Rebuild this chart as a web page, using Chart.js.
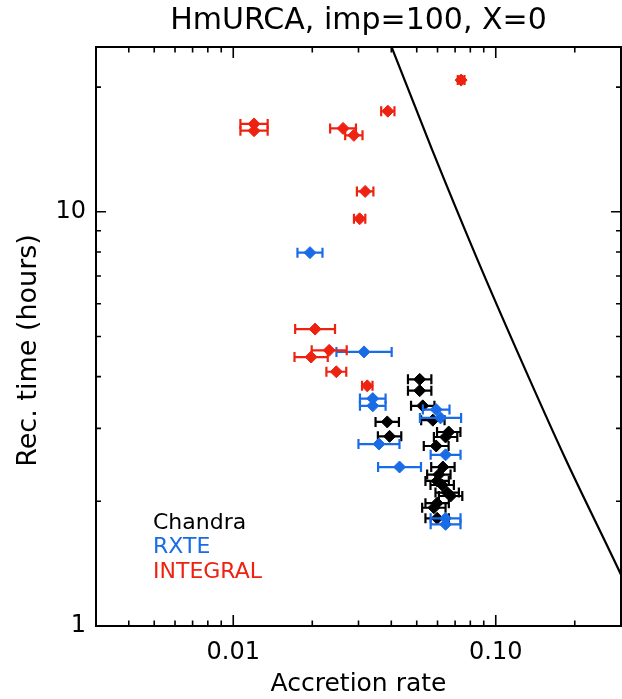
<!DOCTYPE html>
<html><head><meta charset="utf-8">
<script src="https://cdn.jsdelivr.net/npm/chart.js@4"></script>
<style>html,body{margin:0;padding:0;background:#fff;overflow:hidden;}canvas{display:block;}</style>
</head><body>
<canvas id="c" width="622" height="699"></canvas>
<script>
// ---- data ----
const titleText = "HmURCA, imp=100, X=0";
const xTitle = "Accretion rate";
const yTitle = "Rec. time (hours)";

const seriesNames = ["Chandra", "RXTE", "INTEGRAL"];
const seriesColors = ["#000000", "#1a6be6", "#ee2211"];

const chandraX = [0.0513, 0.0513, 0.0527, 0.0576, 0.0386, 0.0662, 0.0644, 0.0394, 0.0593, 0.0629, 0.0607, 0.0598, 0.0625, 0.0653, 0.0673, 0.0598, 0.0581, 0.0598];
const chandraY = [3.94, 3.70, 3.40, 3.14, 3.11, 2.94, 2.86, 2.87, 2.72, 2.42, 2.32, 2.24, 2.19, 2.10, 2.06, 1.98, 1.93, 1.82];
const chandraErr = [1.108, 1.108, 1.108, 1.108, 1.108, 1.108, 1.108, 1.108, 1.115, 1.108, 1.108, 1.108, 1.108, 1.108, 1.108, 1.108, 1.108, 1.108];

const rxteX = [0.0196, 0.0315, 0.0340, 0.0340, 0.0593, 0.0616, 0.0359, 0.0644, 0.0430, 0.0644, 0.0644];
const rxteY = [7.97, 4.59, 3.54, 3.40, 3.33, 3.18, 2.75, 2.59, 2.42, 1.82, 1.76];
const rxteErr = [1.116, 1.274, 1.119, 1.119, 1.124, 1.198, 1.197, 1.14, 1.207, 1.14, 1.14];

const integralX = [0.0738, 0.0388, 0.0120, 0.0120, 0.0262, 0.0288, 0.0318, 0.0303, 0.0205, 0.0232, 0.0198, 0.0247, 0.0324];
const integralY = [20.8, 17.5, 16.3, 15.7, 15.9, 15.3, 11.2, 9.62, 5.21, 4.63, 4.46, 4.11, 3.80];
const integralErr = [1.03, 1.06, 1.127, 1.127, 1.12, 1.079, 1.075, 1.051, 1.191, 1.166, 1.157, 1.091, 1.047];

const curveX = [0.0359, 0.0399, 0.0570, 0.0850, 0.1244, 0.1850, 0.300, 0.332];
const curveY = [30.0, 25.2, 14.21, 7.69, 4.41, 2.52, 1.33, 1.156];

const xTickValues = [0.003, 0.004, 0.005, 0.006, 0.007, 0.008, 0.009, 0.01, 0.02, 0.03, 0.04, 0.05, 0.06, 0.07, 0.08, 0.09, 0.1, 0.2, 0.3];
const xMajorValues = [0.01, 0.1];
const xMajorLabels = ["0.01", "0.10"];
const yTickValues = [1, 2, 3, 4, 5, 6, 7, 8, 9, 10, 20];
const yMajorValues = [1, 10];
const yMajorLabels = ["1", "10"];

// ---- build datasets ----
function pts(xs, ys) { return xs.map((x, i) => ({ x: x, y: ys[i] })); }
function labelFor(v, majors, labels) {
  for (let i = 0; i < majors.length; i++) if (Math.abs(v / majors[i] - 1) < 1e-6) return labels[i];
  return "";
}
function isMajor(v, majors) { return majors.some(m => Math.abs(v / m - 1) < 1e-6); }

const markerDs = (name, xs, ys, err, color) => ({
  label: name, data: pts(xs, ys), errFactor: err,
  pointStyle: 'rectRot', pointRadius: 6, pointBorderWidth: 1,
  backgroundColor: color, borderColor: color, showLine: false
});

const FONT = "'DejaVu Sans', sans-serif";

const errorBarPlugin = {
  id: 'errbars',
  beforeDatasetDraw(chart, args) {
    const ds = chart.data.datasets[args.index];
    if (!ds.errFactor) return;
    const xs = chart.scales.x, ys = chart.scales.y, ctx = chart.ctx;
    const a = chart.chartArea;
    ctx.save();
    ctx.beginPath(); ctx.rect(a.left, a.top, a.right - a.left, a.bottom - a.top); ctx.clip();
    ctx.strokeStyle = ds.borderColor; ctx.lineWidth = 2.2;
    ds.data.forEach((p, i) => {
      const f = ds.errFactor[i];
      const x0 = xs.getPixelForValue(p.x / f), x1 = xs.getPixelForValue(p.x * f);
      const y = ys.getPixelForValue(p.y);
      ctx.beginPath();
      ctx.moveTo(x0, y); ctx.lineTo(x1, y);
      ctx.moveTo(x0, y - 5); ctx.lineTo(x0, y + 5);
      ctx.moveTo(x1, y - 5); ctx.lineTo(x1, y + 5);
      ctx.stroke();
    });
    ctx.restore();
  }
};

const framePlugin = {
  id: 'frame',
  afterDatasetsDraw(chart) {
    const ctx = chart.ctx, a = chart.chartArea, xs = chart.scales.x, ys = chart.scales.y;
    ctx.save();
    ctx.strokeStyle = '#000'; ctx.lineWidth = 2;
    ctx.strokeRect(a.left, a.top, a.right - a.left, a.bottom - a.top);
    ctx.lineWidth = 1.6;
    ctx.beginPath();
    xTickValues.forEach(v => {
      const px = xs.getPixelForValue(v);
      const L = isMajor(v, xMajorValues) ? 11 : 5.5;
      ctx.moveTo(px, a.bottom); ctx.lineTo(px, a.bottom - L);
      ctx.moveTo(px, a.top); ctx.lineTo(px, a.top + L);
    });
    yTickValues.forEach(v => {
      const py = ys.getPixelForValue(v);
      const L = isMajor(v, yMajorValues) ? 10 : 5;
      ctx.moveTo(a.left, py); ctx.lineTo(a.left + L, py);
      ctx.moveTo(a.right, py); ctx.lineTo(a.right - L, py);
    });
    ctx.stroke();
    ctx.fillStyle = '#000';
    // title
    ctx.font = "30px " + FONT;
    ctx.textAlign = 'center'; ctx.textBaseline = 'middle';
    ctx.fillText(titleText, (a.left + a.right) / 2, 21);
    // y axis title
    ctx.save();
    ctx.translate(29, (a.top + a.bottom) / 2 + 14);
    ctx.rotate(-Math.PI / 2);
    ctx.font = "27px " + FONT;
    ctx.fillText(yTitle, 0, 0);
    ctx.restore();
    // legend
    ctx.font = "22px " + FONT;
    ctx.textAlign = 'left';
    seriesNames.forEach((n, i) => {
      ctx.fillStyle = seriesColors[i];
      ctx.fillText(n, a.left + 57, 523 + i * 24.5);
    });
    ctx.restore();
  }
};

new Chart(document.getElementById('c'), {
  type: 'scatter',
  data: {
    datasets: [
      { label: 'model', data: pts(curveX, curveY), showLine: true, borderColor: '#000', borderWidth: 2.2,
        pointRadius: 0, cubicInterpolationMode: 'monotone', fill: false },
      markerDs(seriesNames[2], integralX, integralY, integralErr, seriesColors[2]),
      markerDs(seriesNames[1], rxteX, rxteY, rxteErr, seriesColors[1]),
      markerDs(seriesNames[0], chandraX, chandraY, chandraErr, seriesColors[0])
    ]
  },
  options: {
    responsive: false, animation: false, devicePixelRatio: 1, events: [],
    layout: { autoPadding: false, padding: { left: 0, right: 1, top: 47, bottom: 0 } },
    plugins: { legend: { display: false }, title: { display: false }, tooltip: { enabled: false } },
    scales: {
      x: {
        type: 'logarithmic', min: 0.003, max: 0.3,
        afterBuildTicks(s) { s.ticks = xTickValues.map(v => ({ value: v, major: isMajor(v, xMajorValues) })); },
        afterFit(s) { s.height = 73; s.paddingLeft = 0; s.paddingRight = 0; },
        grid: { display: false, drawTicks: false }, border: { display: false },
        ticks: { autoSkip: false, maxRotation: 0, padding: 12, color: '#000',
          font: { family: FONT, size: 24 },
          callback: (v) => labelFor(v, xMajorValues, xMajorLabels) },
        title: { display: true, text: xTitle, color: '#000', font: { family: FONT, size: 25 }, padding: { top: 0, bottom: 0 } }
      },
      y: {
        type: 'logarithmic', min: 1, max: 25,
        afterBuildTicks(s) { s.ticks = yTickValues.map(v => ({ value: v, major: isMajor(v, yMajorValues) })); },
        afterFit(s) { s.width = 96; s.paddingTop = 0; s.paddingBottom = 0; },
        grid: { display: false, drawTicks: false }, border: { display: false },
        ticks: { autoSkip: false, padding: 10, color: '#000',
          font: { family: FONT, size: 24 },
          callback: (v) => labelFor(v, yMajorValues, yMajorLabels) },
        title: { display: false }
      }
    }
  },
  plugins: [errorBarPlugin, framePlugin]
});
</script>
</body></html>
